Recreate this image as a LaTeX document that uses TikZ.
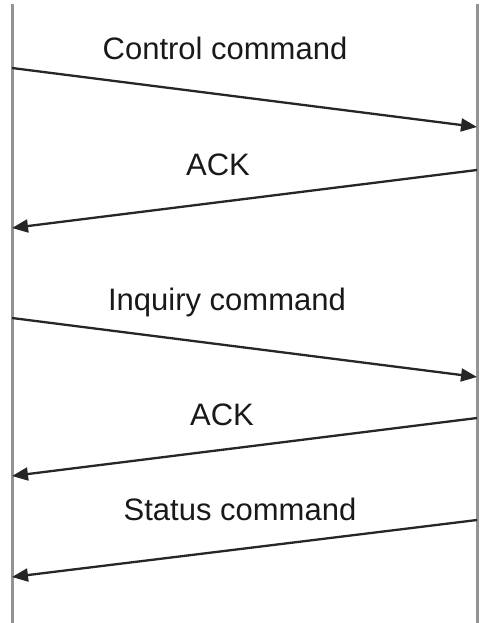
\documentclass[tikz,border=0pt]{standalone}
\usepackage{fontspec}
\setmainfont{Liberation Sans}
\usetikzlibrary{arrows.meta}

\begin{document}
\begin{tikzpicture}[x=1pt, y=-1pt,
  lifeline/.style={line width=3pt, gray!85},
  msg/.style={line width=2.3pt, black!85, -{Triangle[length=16pt,width=13pt]}},
  msglabel/.style={anchor=base, text=black!90, font=\fontsize{31}{36}\selectfont}]
  \useasboundingbox (0,0) rectangle (484,623);

  % Lifelines
  \coordinate (lefttop) at (12,4);
  \coordinate (leftbot) at (12,623);
  \coordinate (righttop) at (477,4);
  \coordinate (rightbot) at (477,623);
  \draw[lifeline] (lefttop) -- (leftbot);
  \draw[lifeline] (righttop) -- (rightbot);

  % Control command
  \coordinate (ctrlstart) at (12,68);
  \coordinate (ctrlend) at (477,127);
  \draw[msg] (ctrlstart) -- (ctrlend);
  \node[msglabel] (ctrl) at (225,60) {Control command};

  % ACK
  \coordinate (ackastart) at (477,170);
  \coordinate (ackaend) at (12,228);
  \draw[msg] (ackastart) -- (ackaend);
  \node[msglabel] (acka) at (218,175) {ACK};

  % Inquiry command
  \coordinate (inqstart) at (12,318);
  \coordinate (inqend) at (477,377);
  \draw[msg] (inqstart) -- (inqend);
  \node[msglabel] (inq) at (227,310) {Inquiry command};

  % ACK
  \coordinate (ackbstart) at (477,418);
  \coordinate (ackbend) at (12,476);
  \draw[msg] (ackbstart) -- (ackbend);
  \node[msglabel] (ackb) at (222,425) {ACK};

  % Status command
  \coordinate (statstart) at (477,520);
  \coordinate (statend) at (12,577);
  \draw[msg] (statstart) -- (statend);
  \node[msglabel] (stat) at (240,520) {Status command};
\end{tikzpicture}
\end{document}
